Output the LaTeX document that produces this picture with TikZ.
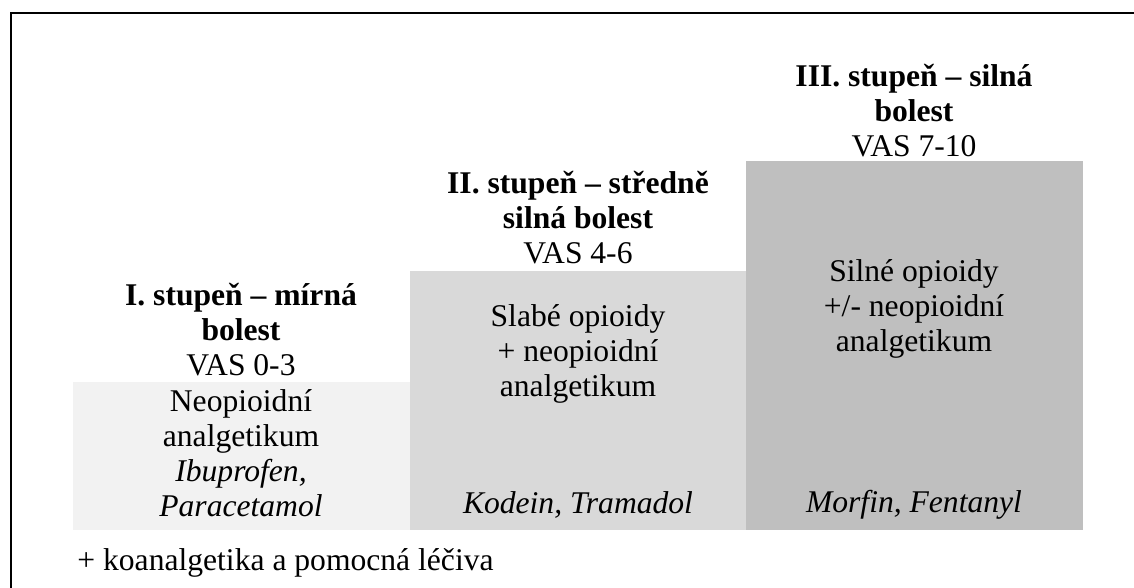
\documentclass[tikz,border=0pt]{standalone}
\usepackage{fontspec}
\setmainfont{Liberation Serif}
\usetikzlibrary{positioning}
\definecolor{stepI}{HTML}{F2F2F2}
\definecolor{stepII}{HTML}{D9D9D9}
\definecolor{stepIII}{HTML}{BFBFBF}

\begin{document}
\begin{tikzpicture}[x=0.5pt, y=-0.5pt]
	\tikzset{lbl/.style={align=center, inner sep=0pt, font=\fontsize{15.8}{17.5}\selectfont}}
		\useasboundingbox (0,0) rectangle (1134,588);
		\clip (0,0) rectangle (1134,588);
		\draw[line width=1.1pt] (11,13) rectangle (1160,620);
		\fill[stepI] (73,382) rectangle (410,530);
		\fill[stepII] (410,271) rectangle (747,530);
		\fill[stepIII] (746,161) rectangle (1083,530);
		\node[lbl] (headI) at (241,330) {\textbf{I. stupeň – mírná}\\\textbf{bolest}\\VAS 0-3};
		\node[lbl] (headII) at (578,218) {\textbf{II. stupeň – středně}\\\textbf{silná bolest}\\VAS 4-6};
		\node[lbl] (headIII) at (914,111) {\textbf{III. stupeň – silná}\\\textbf{bolest}\\VAS 7-10};
		\node[lbl] (drugI) at (241,453) {Neopioidní\\analgetikum\\\textit{Ibuprofen,}\\\textit{Paracetamol}};
		\node[lbl] (drugII) at (578,354) {Slabé opioidy\\+ neopioidní\\analgetikum};
		\node[lbl] (drugIII) at (914,309) {Silné opioidy\\+/- neopioidní\\analgetikum};
		\node[lbl] (exII) at (578,505) {\textit{Kodein, Tramadol}};
		\node[lbl] (exIII) at (914,505) {\textit{Morfin, Fentanyl}};
		\node[lbl, anchor=west] (note) at (77,563) {+ koanalgetika a pomocná léčiva};
	\end{tikzpicture}
\end{document}
